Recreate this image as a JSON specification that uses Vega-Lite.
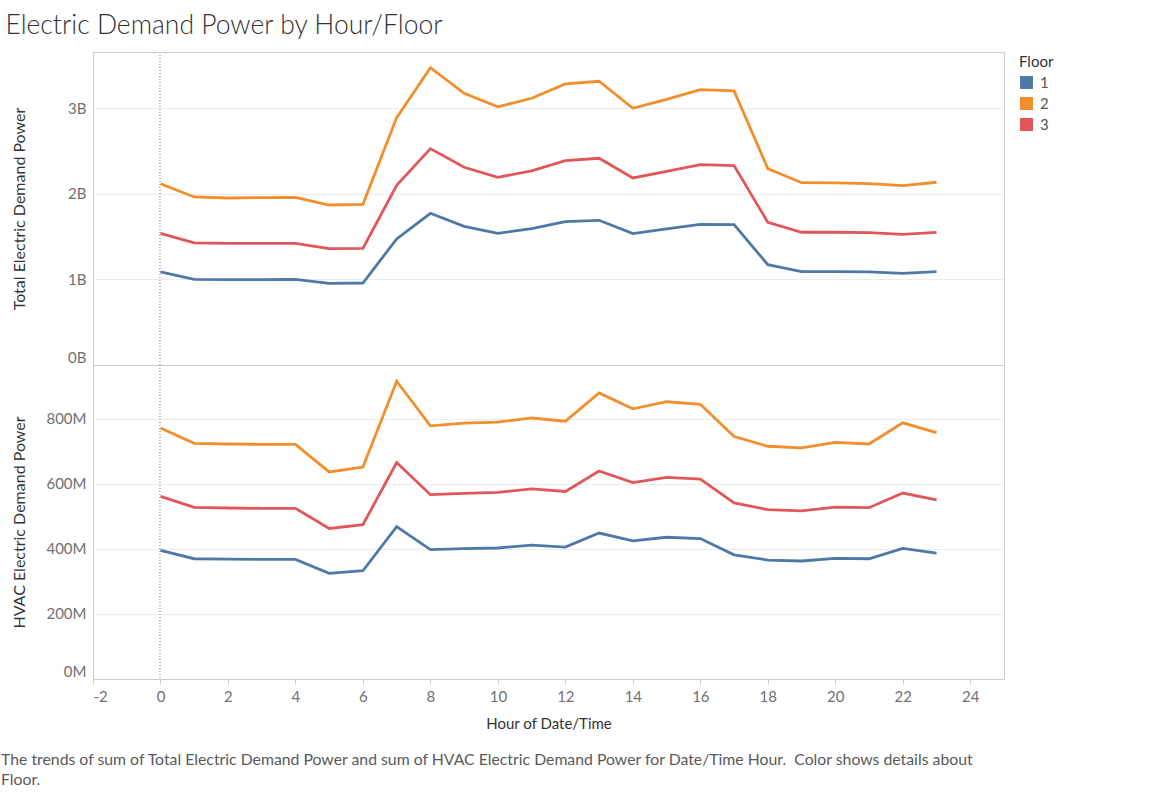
{
  "$schema": "https://vega.github.io/schema/vega-lite/v6.json",
  "padding": {"left": 0, "top": 12, "right": 5, "bottom": 2},
  "bounds": "flush",
  "title": {
    "text": "Electric Demand Power by Hour/Floor",
    "anchor": "start",
    "frame": "bounds",
    "dx": 5,
    "offset": 12,
    "fontSize": 26.5,
    "font": "Lato",
    "fontWeight": 300,
    "color": "#333333"
  },
  "data": {
    "values": [
      {"hour": 0, "floor": "1", "total": 1.088e9, "hvac": 396e6},
      {"hour": 1, "floor": "1", "total": 1.002e9, "hvac": 370e6},
      {"hour": 2, "floor": "1", "total": 0.998e9, "hvac": 369e6},
      {"hour": 3, "floor": "1", "total": 0.998e9, "hvac": 368e6},
      {"hour": 4, "floor": "1", "total": 1.002e9, "hvac": 368e6},
      {"hour": 5, "floor": "1", "total": 0.955e9, "hvac": 325e6},
      {"hour": 6, "floor": "1", "total": 0.959e9, "hvac": 333e6},
      {"hour": 7, "floor": "1", "total": 1.474e9, "hvac": 469e6},
      {"hour": 8, "floor": "1", "total": 1.774e9, "hvac": 398e6},
      {"hour": 9, "floor": "1", "total": 1.622e9, "hvac": 401e6},
      {"hour": 10, "floor": "1", "total": 1.540e9, "hvac": 403e6},
      {"hour": 11, "floor": "1", "total": 1.594e9, "hvac": 412e6},
      {"hour": 12, "floor": "1", "total": 1.676e9, "hvac": 406e6},
      {"hour": 13, "floor": "1", "total": 1.692e9, "hvac": 449e6},
      {"hour": 14, "floor": "1", "total": 1.536e9, "hvac": 425e6},
      {"hour": 15, "floor": "1", "total": 1.591e9, "hvac": 436e6},
      {"hour": 16, "floor": "1", "total": 1.645e9, "hvac": 432e6},
      {"hour": 17, "floor": "1", "total": 1.641e9, "hvac": 382e6},
      {"hour": 18, "floor": "1", "total": 1.173e9, "hvac": 366e6},
      {"hour": 19, "floor": "1", "total": 1.092e9, "hvac": 363e6},
      {"hour": 20, "floor": "1", "total": 1.092e9, "hvac": 371e6},
      {"hour": 21, "floor": "1", "total": 1.088e9, "hvac": 370e6},
      {"hour": 22, "floor": "1", "total": 1.072e9, "hvac": 402e6},
      {"hour": 23, "floor": "1", "total": 1.092e9, "hvac": 387e6},
      {"hour": 0, "floor": "2", "total": 2.120e9, "hvac": 772e6},
      {"hour": 1, "floor": "2", "total": 1.965e9, "hvac": 725e6},
      {"hour": 2, "floor": "2", "total": 1.953e9, "hvac": 723e6},
      {"hour": 3, "floor": "2", "total": 1.957e9, "hvac": 722e6},
      {"hour": 4, "floor": "2", "total": 1.961e9, "hvac": 722e6},
      {"hour": 5, "floor": "2", "total": 1.871e9, "hvac": 637e6},
      {"hour": 6, "floor": "2", "total": 1.879e9, "hvac": 652e6},
      {"hour": 7, "floor": "2", "total": 2.893e9, "hvac": 916e6},
      {"hour": 8, "floor": "2", "total": 3.477e9, "hvac": 779e6},
      {"hour": 9, "floor": "2", "total": 3.177e9, "hvac": 787e6},
      {"hour": 10, "floor": "2", "total": 3.018e9, "hvac": 790e6},
      {"hour": 11, "floor": "2", "total": 3.119e9, "hvac": 803e6},
      {"hour": 12, "floor": "2", "total": 3.287e9, "hvac": 793e6},
      {"hour": 13, "floor": "2", "total": 3.318e9, "hvac": 880e6},
      {"hour": 14, "floor": "2", "total": 3.002e9, "hvac": 831e6},
      {"hour": 15, "floor": "2", "total": 3.107e9, "hvac": 853e6},
      {"hour": 16, "floor": "2", "total": 3.220e9, "hvac": 845e6},
      {"hour": 17, "floor": "2", "total": 3.205e9, "hvac": 746e6},
      {"hour": 18, "floor": "2", "total": 2.296e9, "hvac": 716e6},
      {"hour": 19, "floor": "2", "total": 2.132e9, "hvac": 711e6},
      {"hour": 20, "floor": "2", "total": 2.129e9, "hvac": 728e6},
      {"hour": 21, "floor": "2", "total": 2.120e9, "hvac": 723e6},
      {"hour": 22, "floor": "2", "total": 2.097e9, "hvac": 788e6},
      {"hour": 23, "floor": "2", "total": 2.137e9, "hvac": 758e6},
      {"hour": 0, "floor": "3", "total": 1.540e9, "hvac": 562e6},
      {"hour": 1, "floor": "3", "total": 1.427e9, "hvac": 528e6},
      {"hour": 2, "floor": "3", "total": 1.423e9, "hvac": 526e6},
      {"hour": 3, "floor": "3", "total": 1.423e9, "hvac": 525e6},
      {"hour": 4, "floor": "3", "total": 1.423e9, "hvac": 525e6},
      {"hour": 5, "floor": "3", "total": 1.360e9, "hvac": 463e6},
      {"hour": 6, "floor": "3", "total": 1.364e9, "hvac": 475e6},
      {"hour": 7, "floor": "3", "total": 2.101e9, "hvac": 666e6},
      {"hour": 8, "floor": "3", "total": 2.530e9, "hvac": 567e6},
      {"hour": 9, "floor": "3", "total": 2.312e9, "hvac": 571e6},
      {"hour": 10, "floor": "3", "total": 2.195e9, "hvac": 574e6},
      {"hour": 11, "floor": "3", "total": 2.269e9, "hvac": 585e6},
      {"hour": 12, "floor": "3", "total": 2.390e9, "hvac": 577e6},
      {"hour": 13, "floor": "3", "total": 2.417e9, "hvac": 640e6},
      {"hour": 14, "floor": "3", "total": 2.187e9, "hvac": 604e6},
      {"hour": 15, "floor": "3", "total": 2.265e9, "hvac": 620e6},
      {"hour": 16, "floor": "3", "total": 2.343e9, "hvac": 615e6},
      {"hour": 17, "floor": "3", "total": 2.331e9, "hvac": 542e6},
      {"hour": 18, "floor": "3", "total": 1.669e9, "hvac": 521e6},
      {"hour": 19, "floor": "3", "total": 1.552e9, "hvac": 517e6},
      {"hour": 20, "floor": "3", "total": 1.552e9, "hvac": 529e6},
      {"hour": 21, "floor": "3", "total": 1.548e9, "hvac": 527e6},
      {"hour": 22, "floor": "3", "total": 1.528e9, "hvac": 572e6},
      {"hour": 23, "floor": "3", "total": 1.552e9, "hvac": 551e6}
    ]
  },
  "spacing": 0,
  "vconcat": [
    {
      "width": 911,
      "height": 313,
      "layer": [
        {
          "mark": {"type": "rule", "color": "#bdbdbd", "strokeDash": [1, 2], "strokeWidth": 1},
          "encoding": {
            "x": {"datum": 0, "type": "quantitative", "scale": {"domain": [-2, 25], "nice": false}, "axis": null}
          }
        },
        {
          "mark": {"type": "line", "strokeWidth": 2.8},
          "encoding": {
            "x": {"field": "hour", "type": "quantitative", "scale": {"domain": [-2, 25], "nice": false}, "axis": null},
            "y": {
              "field": "total",
              "type": "quantitative",
              "scale": {"domain": [0, 3.66e9], "nice": false},
              "axis": {
                "title": "Total Electric Demand Power",
                "values": [0, 1e9, 2e9, 3e9],
                "labelExpr": "datum.value / 1e9 + 'B'",
                "labelFlush": true,
                "ticks": false,
                "tickSize": 0,
                "domain": false,
                "labelPadding": 7,
                "minExtent": 52,
                "maxExtent": 52,
                "titlePadding": 14
              }
            },
            "color": {
              "field": "floor",
              "type": "nominal",
              "scale": {"domain": ["1", "2", "3"], "range": ["#4e79a7", "#f28e2b", "#e15759"]},
              "legend": {
                "title": "Floor",
                "symbolType": "square",
                "symbolSize": 169,
                "symbolStrokeWidth": 0,
                "offset": 11,
                "padding": 3,
                "titlePadding": 5,
                "rowPadding": 5,
                "labelOffset": 6,
                "encode": {
                  "symbols": {"update": {"fill": {"scale": "color", "field": "value"}, "strokeWidth": {"value": 0}}}
                }
              }
            }
          }
        }
      ]
    },
    {
      "width": 911,
      "height": 314,
      "title": {
        "text": ["The trends of sum of Total Electric Demand Power and sum of HVAC Electric Demand Power for Date/Time Hour.\u00a0 Color shows details about", "Floor."],
        "orient": "bottom",
        "anchor": "start",
        "frame": "group",
        "dx": -92,
        "offset": 22,
        "fontSize": 15.8,
        "lineHeight": 20,
        "font": "Lato",
        "fontWeight": "normal",
        "color": "#5a5a5a"
      },
      "layer": [
        {
          "mark": {"type": "rule", "color": "#bdbdbd", "strokeDash": [1, 2], "strokeWidth": 1},
          "encoding": {
            "x": {"datum": 0, "type": "quantitative", "scale": {"domain": [-2, 25], "nice": false}}
          }
        },
        {
          "mark": {"type": "line", "strokeWidth": 2.8},
          "encoding": {
            "x": {
              "field": "hour",
              "type": "quantitative",
              "scale": {"domain": [-2, 25], "nice": false},
              "axis": {
                "title": "Hour of Date/Time",
                "values": [-2, 0, 2, 4, 6, 8, 10, 12, 14, 16, 18, 20, 22, 24],
                "labelExpr": "'' + datum.value",
                "grid": false,
                "tickSize": 5,
                "labelPadding": 5,
                "titlePadding": 12
              }
            },
            "y": {
              "field": "hvac",
              "type": "quantitative",
              "scale": {"domain": [0, 966e6], "nice": false},
              "axis": {
                "title": "HVAC Electric Demand Power",
                "values": [0, 2e8, 4e8, 6e8, 8e8],
                "labelExpr": "datum.value / 1e6 + 'M'",
                "labelFlush": true,
                "ticks": false,
                "tickSize": 0,
                "domain": false,
                "labelPadding": 7,
                "minExtent": 52,
                "maxExtent": 52,
                "titlePadding": 14
              }
            },
            "color": {"field": "floor", "type": "nominal"}
          }
        }
      ]
    }
  ],
  "config": {
    "font": "Lato",
    "view": {"stroke": "#cccccc"},
    "axis": {
      "labelFont": "Lato",
      "labelFontSize": 15,
      "labelColor": "#707070",
      "titleFont": "Lato",
      "titleFontSize": 15,
      "titleFontWeight": "normal",
      "titleColor": "#333333",
      "gridColor": "#ebebeb",
      "domainColor": "#cccccc",
      "tickColor": "#cccccc"
    },
    "axisY": {
      "titleFontSize": 16
    },
    "legend": {
      "titleFont": "Lato",
      "titleFontSize": 15,
      "titleFontWeight": "normal",
      "titleColor": "#333333",
      "labelFont": "Lato",
      "labelFontSize": 15,
      "labelColor": "#555555"
    }
  }
}
